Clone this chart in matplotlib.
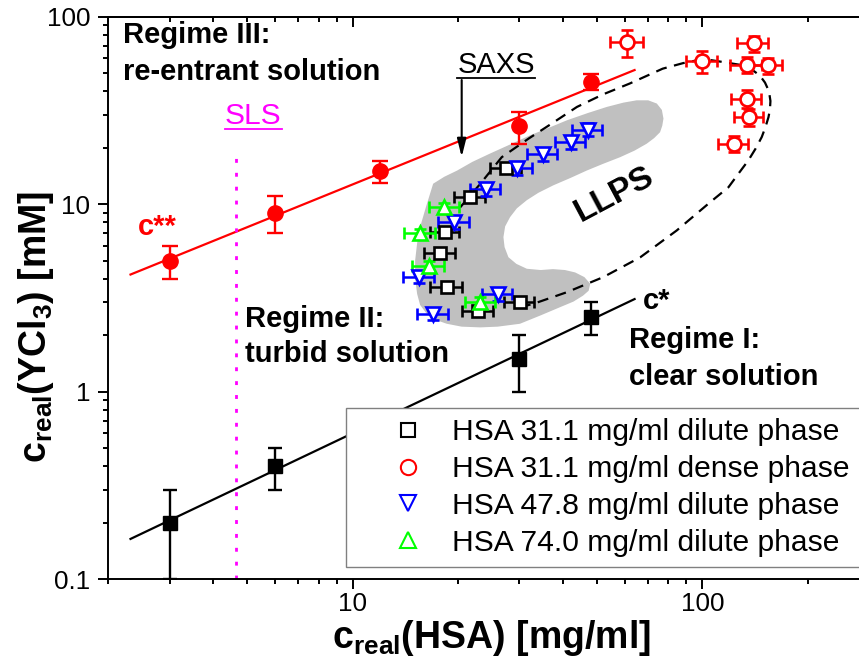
import numpy as np
import matplotlib
matplotlib.use("Agg")
import matplotlib.pyplot as plt
from matplotlib.lines import Line2D
from matplotlib.ticker import LogLocator, FuncFormatter, NullFormatter

plt.rcParams["font.family"] = ["Liberation Sans", "DejaVu Sans"]
plt.rcParams["mathtext.fontset"] = "custom"
plt.rcParams["mathtext.rm"] = "Liberation Sans:bold"
plt.rcParams["mathtext.it"] = "Liberation Sans:bold"
plt.rcParams["mathtext.bf"] = "Liberation Sans:bold"

# c*: boundary between clear and turbid solution
cstar_hsa = [3, 6, 30, 48]
cstar_ycl3 = [0.2, 0.4, 1.5, 2.5]
cstar_err = [0.1, 0.1, 0.5, 0.5]

# c**: boundary between turbid and re-entrant solution
c2star_hsa = [3, 6, 12, 30, 48]
c2star_ycl3 = [5, 9, 15, 26, 45]
c2star_err = [1, 2, 2, 5, 4.5]

# HSA 31.1 mg/ml, dilute phase
d311_hsa = [27.5, 21.7, 18.4, 17.8, 18.6, 22.9, 30.1]
d311_ycl3 = [15.5, 10.9, 7.1, 5.5, 3.6, 2.7, 3.0]
d311_xerr = [2.8, 2.2, 1.8, 1.8, 1.9, 2.3, 3.0]
d311_yerr = [0.8, 0.6, 0.4, 0.3, 0.2, 0.15, 0.15]

# HSA 31.1 mg/ml, dense phase
dense_hsa = [61, 100, 140, 134, 154, 134, 136, 123]
dense_ycl3 = [73, 58, 72, 55.5, 55, 36.5, 29, 21]
dense_xerr = [6.5, 10, 14, 14, 15, 13, 13, 12]
dense_yerr = [12, 8, 7, 5.5, 5.5, 4, 3, 2]

# HSA 47.8 mg/ml, dilute phase
d478_hsa = [47, 42, 35, 29.5, 24, 19.5, 15.5, 17, 26]
d478_ycl3 = [25, 21.5, 18.5, 15.5, 12, 8, 4.1, 2.6, 3.3]
d478_xerr = [4.7, 4.2, 3.5, 3.0, 2.4, 2.0, 1.6, 1.7, 2.6]
d478_yerr = [2.0, 1.7, 1.5, 1.2, 1.0, 0.6, 0.3, 0.2, 0.25]

# HSA 74.0 mg/ml, dilute phase
d740_hsa = [18.3, 15.6, 16.5, 23.2]
d740_ycl3 = [9.6, 7.0, 4.7, 3.0]
d740_xerr = [1.8, 1.6, 1.7, 2.3]
d740_yerr = [0.6, 0.4, 0.3, 0.2]

# binodal guide (dashed) and LLPS region outline
binodal_hsa = [20.3, 23.2, 26.7, 31.9, 37.1, 43.8, 52, 62, 77, 88, 96.5, 106, 114.5,
               127, 138, 146, 151, 155, 156.5, 156, 154.5, 151.5, 147.8, 142, 135.3,
               127, 118.7, 105, 84.5, 66.4, 52.1, 41, 32.9, 31.5]
binodal_ycl3 = [9.6, 12.85, 17.8, 22.4, 26.9, 33, 38.5, 44, 52.8, 56.5, 58.5, 58.6, 57.3,
                55.5, 52.5, 48.5, 44.5, 40, 35.5, 32, 29.1, 25.8, 22.8, 19.8, 17.1,
                14.6, 12.3, 10.2, 7.24, 5.2, 4.08, 3.39, 2.94, 2.88]

llps_hsa = [17.0, 18.3, 19.9, 22.0, 24.7, 28.2, 32.2, 36.5, 41.0, 47.0, 53.3, 59.5, 64.9,
            70.0, 74.1, 76.6, 77.4, 76.8, 75.7, 72.8, 69.3, 64.0, 58.2, 52.0, 46.7, 42.0,
            37.5, 34.0, 31.5, 29.5, 28.2, 27.3, 27.0, 27.2, 27.9, 29.4, 31.5, 34.5, 37.4,
            40.5, 43.3, 46.0, 47.8, 47.3, 45.6, 42.8, 39.2, 34.5, 30.1, 26.0, 23.2, 20.5,
            18.6, 17.2, 16.3, 15.6, 15.3, 15.1, 15.1, 15.3, 15.6, 16.2]
llps_ycl3 = [12.85, 14.0, 15.1, 16.8, 18.6, 20.8, 23.3, 25.6, 28.0, 30.6, 33.0, 34.8, 35.8,
             35.8, 34.4, 31.8, 28.6, 26.2, 24.2, 22.5, 21.0, 19.3, 17.8, 16.4, 15.1, 13.8,
             12.6, 11.5, 10.5, 9.5, 8.52, 7.6, 6.67, 5.9, 5.21, 4.8, 4.52, 4.45, 4.5,
             4.45, 4.32, 4.08, 3.76, 3.45, 3.25, 3.02, 2.82, 2.55, 2.30, 2.22, 2.20, 2.22,
             2.30, 2.42, 2.60, 2.90, 3.32, 4.0, 5.0, 6.2, 7.54, 9.6]

sls_hsa = 4.65

fig = plt.figure(figsize=(8.59, 6.70), dpi=100)
ax = fig.add_axes([0.1257, 0.1358, 0.8863, 0.8393])
ax.set_xscale("log")
ax.set_yscale("log")
ax.set_xlim(2, 300)
ax.set_ylim(0.1, 100)

# LLPS region and binodal guide
ax.fill(llps_hsa, llps_ycl3, color="#c0c0c0", lw=0, zorder=1)
ax.plot(binodal_hsa, binodal_ycl3, color="black", lw=1.6, dashes=(5, 3.4), zorder=2)

# power-law fits of c* and c**
xfit = np.geomspace(2.32, 64, 60)
for xs, ys, col in ((cstar_hsa, cstar_ycl3, "black"), (c2star_hsa, c2star_ycl3, "red")):
    b, a = np.polyfit(np.log10(xs), np.log10(ys), 1)
    ax.plot(xfit, 10 ** a * xfit ** b, color=col, lw=1.6, zorder=2)

ax.errorbar(cstar_hsa, cstar_ycl3, yerr=cstar_err, fmt="s", color="black", ms=9.5,
            elinewidth=1.7, capsize=5, capthick=1.7, zorder=4)
ax.errorbar(c2star_hsa, c2star_ycl3, yerr=c2star_err, fmt="o", color="red", ms=11,
            elinewidth=1.7, capsize=5.5, capthick=1.7, zorder=4)

common = dict(elinewidth=1.8, capsize=4.5, capthick=1.8, mfc="white", mew=1.9, zorder=5)
ax.errorbar(dense_hsa, dense_ycl3, xerr=dense_xerr, yerr=dense_yerr, fmt="o", color="red",
            ms=10, **common)
ax.errorbar(d311_hsa, d311_ycl3, xerr=d311_xerr, yerr=d311_yerr, fmt="s", color="black",
            ms=8, **common)
ax.errorbar(d478_hsa, d478_ycl3, xerr=d478_xerr, yerr=d478_yerr, fmt="v", color="blue",
            ms=10.5, **common)
ax.errorbar(d740_hsa, d740_ycl3, xerr=d740_xerr, yerr=d740_yerr, fmt="^", color="#00ff00",
            ms=10.5, **common)

# SLS concentration
ax.axvline(sls_hsa, ymin=0, ymax=0.763, color="#ff00ff", lw=2, dashes=(1.4, 3.6), zorder=2)

# ticks
fmt = FuncFormatter(lambda v, p: f"{v:g}")
for axis in (ax.xaxis, ax.yaxis):
    axis.set_major_locator(LogLocator(base=10))
    axis.set_minor_locator(LogLocator(base=10, subs=np.arange(2, 10)))
    axis.set_major_formatter(fmt)
    axis.set_minor_formatter(NullFormatter())
ax.tick_params(which="both", direction="out", width=1.4, labelsize=18.7, top=False, right=False)
ax.tick_params(which="major", length=7.2)
ax.tick_params(which="minor", length=3.8)
ax.tick_params(axis="y", pad=5.5)
ax.tick_params(axis="x", pad=2.0)
for s in ax.spines.values():
    s.set_linewidth(1.4)

secx = ax.secondary_xaxis("top")
secy = ax.secondary_yaxis("right")
for sec, axis in ((secx, secx.xaxis), (secy, secy.yaxis)):
    axis.set_major_locator(LogLocator(base=10))
    axis.set_minor_locator(LogLocator(base=10, subs=np.arange(2, 10)))
    axis.set_major_formatter(NullFormatter())
    axis.set_minor_formatter(NullFormatter())
    sec.tick_params(which="both", direction="in", width=1.4)
    sec.tick_params(which="major", length=7.2)
    sec.tick_params(which="minor", length=3.8)
    for s in sec.spines.values():
        s.set_linewidth(1.4)

# axis labels
fig.text(491 / 859, 1 - 648 / 670, r"c$_{\mathrm{real}}$(HSA) [mg/ml]", fontsize=27,
         fontweight="bold", ha="center", va="baseline")
fig.text(36 / 859, 1 - 327 / 670, r"c$_{\mathrm{real}}$(YCl$_{\mathrm{3}}$) [mM]", fontsize=27,
         fontweight="bold", ha="center", va="center", rotation=90)

# annotations
bold = dict(fontsize=21, fontweight="bold", transform=ax.transAxes, va="baseline")
ax.text(0.0197, 0.953, "Regime III:", **bold)
ax.text(0.0197, 0.887, "re-entrant solution", **bold)
ax.text(0.180, 0.448, "Regime II:", **bold)
ax.text(0.180, 0.386, "turbid solution", **bold)
ax.text(0.685, 0.410, "Regime I:", **bold)
ax.text(0.685, 0.345, "clear solution", **bold)
ax.text(0.703, 0.481, "c*", **bold)
ax.text(0.0394, 0.612, "c**", color="red", **bold)
ax.text(56, 11.2, "LLPS", fontsize=24, fontweight="bold", rotation=28, ha="center",
        va="center", zorder=3)

ax.text(0.1905, 0.809, "SLS", color="#ff00ff", fontsize=21.5, ha="center", va="baseline",
        transform=ax.transAxes)
ax.plot([0.1537, 0.2286], [0.7994, 0.7994], color="#ff00ff", lw=1.3, transform=ax.transAxes)
ax.text(0.5097, 0.9003, "SAXS", color="black", fontsize=21, ha="center", va="baseline",
        transform=ax.transAxes)
ax.plot([0.458, 0.561], [0.8904, 0.8904], color="black", lw=1.3, transform=ax.transAxes)
ax.annotate("", xy=(0.4646, 0.7505), xytext=(0.4646, 0.8874), xycoords="axes fraction",
            arrowprops=dict(arrowstyle="-|>,head_length=0.6,head_width=0.15", lw=1.5,
                            color="black", mutation_scale=18, shrinkA=0, shrinkB=0))

# legend
handles = [
    Line2D([], [], ls="none", marker="s", ms=10, mfc="white", mec="black", mew=1.5),
    Line2D([], [], ls="none", marker="o", ms=11, mfc="white", mec="red", mew=1.5),
    Line2D([], [], ls="none", marker="v", ms=12, mfc="white", mec="blue", mew=1.5),
    Line2D([], [], ls="none", marker="^", ms=12, mfc="white", mec="#00ff00", mew=1.5),
]
labels = ["HSA 31.1 mg/ml dilute phase", "HSA 31.1 mg/ml dense phase",
          "HSA 47.8 mg/ml dilute phase", "HSA 74.0 mg/ml dilute phase"]
leg = ax.legend(handles, labels, loc="upper left", bbox_to_anchor=(346 / 859, 1 - 408 / 670),
                bbox_transform=fig.transFigure, borderaxespad=0, fontsize=21.6,
                frameon=True, fancybox=False, edgecolor="#808080", framealpha=1,
                borderpad=0.35, handlelength=3.45, handletextpad=-0.27, labelspacing=0.29,
                numpoints=1)
leg.get_frame().set_linewidth(1.0)
leg.set_zorder(10)

fig.savefig("out.png", dpi=100)
